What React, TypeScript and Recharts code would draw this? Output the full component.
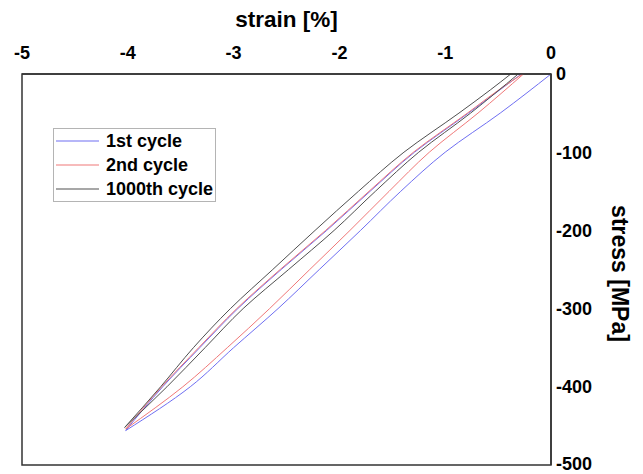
import { Legend, Line, LineChart, ReferenceArea, XAxis, YAxis } from "recharts";

const strainTicks = [-5, -4, -3, -2, -1, 0];
const stressTicks = [0, -100, -200, -300, -400, -500];

// loading branches (from the top down to the tip) and unloading branches (tip back to zero stress)
const loadStress = [0, -50, -100, -150, -200, -250, -300, -350, -400];
const unloadStress = [-400, -350, -300, -250, -200, -150, -100, -50, -20, 0];

const cycle1LoadStrain = [0, -0.48, -1.0, -1.42, -1.8, -2.19, -2.58, -3.0, -3.41];
const cycle1UnloadStrain = [-3.67, -3.32, -2.96, -2.55, -2.12, -1.71, -1.29, -0.78, -0.48, -0.28];
const cycle1Tip = { x: -4.02, y: -456 };

const cycle2LoadStrain = [-0.26, -0.69, -1.15, -1.53, -1.9, -2.28, -2.66, -3.06, -3.48];
const cycle2UnloadStrain = [-3.68, -3.33, -2.97, -2.56, -2.13, -1.72, -1.3, -0.79, -0.49, -0.27];
const cycle2Tip = { x: -4.02, y: -454 };

const cycle1000LoadStrain = [-0.31, -0.76, -1.25, -1.66, -2.05, -2.48, -2.91, -3.27, -3.63];
const cycle1000UnloadStrain = [-3.69, -3.38, -3.03, -2.63, -2.23, -1.82, -1.39, -0.87, -0.57, -0.38];
const cycle1000Tip = { x: -4.03, y: -452 };

const toPoints = (strain: number[], stress: number[]) =>
  strain.map((x, i) => ({ x, y: stress[i] }));

const series = [
  {
    name: "1st cycle",
    color: "#6f6ff2",
    load: [...toPoints(cycle1LoadStrain, loadStress), cycle1Tip],
    unload: [cycle1Tip, ...toPoints(cycle1UnloadStrain, unloadStress)],
  },
  {
    name: "2nd cycle",
    color: "#f07878",
    load: [...toPoints(cycle2LoadStrain, loadStress), cycle2Tip],
    unload: [cycle2Tip, ...toPoints(cycle2UnloadStrain, unloadStress)],
  },
  {
    name: "1000th cycle",
    color: "#505050",
    load: [...toPoints(cycle1000LoadStrain, loadStress), cycle1000Tip],
    unload: [cycle1000Tip, ...toPoints(cycle1000UnloadStrain, unloadStress)],
  },
];

const font = "'Liberation Sans', Arial, sans-serif";
const tickStyle = { fill: "#000", fontSize: 18, fontWeight: "bold", fontFamily: font };

const LegendBox = () => (
  <div
    style={{
      border: "1px solid #b4b4b4",
      background: "#fff",
      padding: "0 2px 0 2px",
      fontFamily: font,
      fontWeight: "bold",
      fontSize: 18,
      color: "#000",
    }}
  >
    {series.map((s) => (
      <div key={s.name} style={{ display: "flex", alignItems: "center", height: 24, whiteSpace: "nowrap" }}>
        <svg width={43} height={2} style={{ marginRight: 7, display: "block" }}>
          <line x1={0} y1={1} x2={43} y2={1} stroke={s.color} strokeWidth={1.2} />
        </svg>
        <span>{s.name}</span>
      </div>
    ))}
  </div>
);

const StressLabel = (props: any) => {
  const { viewBox } = props;
  const cx = viewBox.x + viewBox.width + 9;
  const cy = viewBox.y + viewBox.height / 2 + 4;
  return (
    <text
      x={cx}
      y={cy}
      transform={`rotate(90 ${cx} ${cy})`}
      textAnchor="middle"
      dy="0.35em"
      fill="#000"
      fontSize={23}
      fontWeight="bold"
      fontFamily={font}
    >
      stress [MPa]
    </text>
  );
};

export default function App() {
  return (
    <LineChart width={635} height={466} margin={{ top: 36, right: 32, bottom: 9, left: 14 }}>
      <XAxis
        type="number"
        dataKey="x"
        orientation="top"
        domain={[-5, 0]}
        ticks={strainTicks}
        allowDataOverflow
        height={30}
        tickLine={false}
        tickMargin={9}
        axisLine={{ stroke: "#333", strokeWidth: 1.5 }}
        tick={tickStyle}
        label={{
          value: "strain [%]",
          position: "top",
          offset: 17,
          fill: "#000",
          fontSize: 22.5,
          fontWeight: "bold",
          fontFamily: font,
        }}
      />
      <YAxis
        type="number"
        dataKey="y"
        orientation="right"
        domain={[-500, 0]}
        ticks={stressTicks}
        allowDataOverflow
        width={60}
        tickLine={false}
        tickSize={5}
        tickMargin={0}
        axisLine={{ stroke: "#333", strokeWidth: 1.5 }}
        tick={tickStyle}
        label={{ content: StressLabel }}
      />
      <ReferenceArea x1={-5} x2={0} y1={-500} y2={0} fill="none" stroke="#333" strokeWidth={1.5} ifOverflow="visible" />
      {series.flatMap((s) =>
        [s.load, s.unload].map((pts, i) => (
          <Line
            key={`${s.name}-${i}`}
            data={pts}
            dataKey="y"
            name={s.name}
            type="monotoneY"
            stroke={s.color}
            strokeWidth={1}
            dot={false}
            activeDot={false}
            isAnimationActive={false}
          />
        ))
      )}
      <Legend
        layout="vertical"
        align="center"
        verticalAlign="middle"
        wrapperStyle={{ left: 45, top: 120, width: "auto" }}
        content={() => <LegendBox />}
      />
    </LineChart>
  );
}
